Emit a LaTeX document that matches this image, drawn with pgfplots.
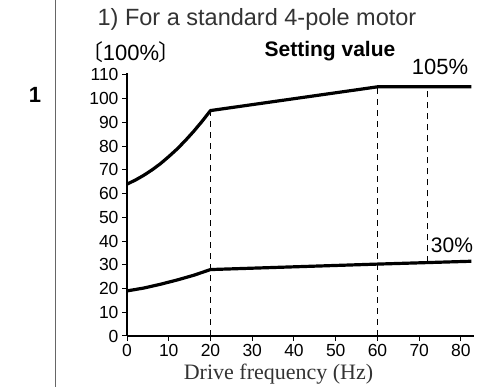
\documentclass[border=0pt]{standalone}
\usepackage{fontspec}
\setmainfont{Liberation Sans}
\newfontfamily\serifont{Liberation Serif}
\newfontfamily\cjk{Noto Sans CJK JP}
\usepackage{pgfplots}
\pgfplotsset{compat=1.18}
\begin{document}
\begin{tikzpicture}[x=1pt,y=1pt]
\useasboundingbox (0pt,0pt) rectangle (478pt,387pt);
\draw[black!60, line width=1pt] (55pt,0pt) -- (55pt,387pt);
\node[font=\bfseries\fontsize{22}{24}\selectfont] at (35pt,292pt) {1};
\node[anchor=base, font=\fontsize{23.5}{25}\selectfont, text=black!80] at (257pt,361pt) {1) For a standard 4-pole motor};
\begin{axis}[
  at={(127pt,51pt)}, anchor=south west, scale only axis,
  width=346.5pt, height=263.4pt,
  xmin=0, xmax=83, ymin=0, ymax=111,
  axis lines=left, axis line style={-, line width=1.5pt},
  xtick={0,10,...,80}, ytick={0,10,...,110},
  tick style={black, line width=1pt}, tick align=outside, major tick length=5pt,
  tick label style={font=\fontsize{17.5}{19}\selectfont},
  /pgf/number format/assume math mode=true,
  clip=false,
]
\addplot[black, line width=3.2pt, line join=round] coordinates {
  (0,64)(2,65.7)(4,67.7)(6,70)(8,72.6)(10,75.6)(12,78.8)(14,82.4)(16,86.3)(18,90.5)(20,95)(60,105)(82.5,105)};
\addplot[black, line width=3.2pt, line join=round] coordinates {
  (0,19)(4,20.2)(8,21.8)(12,23.6)(16,25.6)(20,28)(60,30.3)(82.5,31.5)};
\addplot[black, line width=1.5pt, dash pattern=on 6pt off 5pt] coordinates {(20,0)(20,95)};
\addplot[black, line width=1.5pt, dash pattern=on 6pt off 5pt] coordinates {(60,0)(60,105)};
\addplot[black, line width=1.5pt, dash pattern=on 6pt off 5pt] coordinates {(72,31)(72,105)};
\end{axis}
\node[font=\fontsize{22}{24}\selectfont] at (131pt,335pt) {{\cjk 〔}\kern-0.02em100\%\kern-0.02em{\cjk 〕}};
\node[anchor=base, font=\bfseries\fontsize{21}{23}\selectfont] at (330pt,330pt) {Setting value};
\node[anchor=base, font=\fontsize{22}{24}\selectfont] at (440pt,312pt) {105\%};
\node[anchor=base, font=\fontsize{21}{23}\selectfont] at (452pt,134pt) {30\%};
\node[anchor=base, font=\serifont\fontsize{22}{24}\selectfont, text=black!80] at (278.5pt,7pt) {Drive frequency (Hz)};
\end{tikzpicture}
\end{document}
